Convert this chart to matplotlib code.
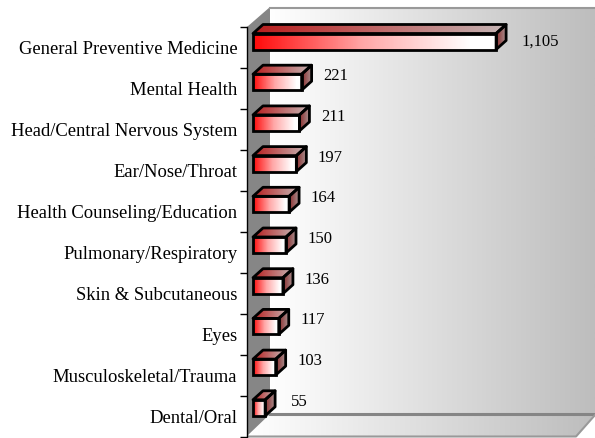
import numpy as np
import matplotlib
matplotlib.use("Agg")
import matplotlib.pyplot as plt
from matplotlib.colors import LinearSegmentedColormap
from matplotlib.patches import Polygon

categories = ["General Preventive Medicine", "Mental Health", "Head/Central Nervous System",
              "Ear/Nose/Throat", "Health Counseling/Education", "Pulmonary/Respiratory",
              "Skin & Subcutaneous", "Eyes", "Musculoskeletal/Trauma", "Dental/Oral"]
values = [1105, 221, 211, 197, 164, 150, 136, 117, 103, 55]
value_labels = ["1,105", "221", "211", "197", "164", "150", "136", "117", "103", "55"]

W, H = 595, 438
plt.rcParams['font.family'] = ['Liberation Serif', 'DejaVu Serif']
fig = plt.figure(figsize=(W / 100, H / 100), dpi=100, facecolor='white')

# ---- 3D box background in pixel coordinates
bg = fig.add_axes([0, 0, 1, 1])
bg.set_xlim(0, W); bg.set_ylim(H, 0); bg.axis('off')
wall_cmap = LinearSegmentedColormap.from_list('wall', ['#ffffff', '#bdbdbd'])
grad = np.linspace(0, 1, 256).reshape(1, -1)
bg.imshow(grad, cmap=wall_cmap, extent=(270, 595, 414, 7), aspect='auto', zorder=1)
floor_im = bg.imshow(grad, cmap=wall_cmap, extent=(247, 595, 436, 414), aspect='auto', zorder=1)
floor_poly = Polygon([(248, 436), (270, 414), (595, 414), (576, 436)], closed=True,
                     fc='none', ec='none', transform=bg.transData)
bg.add_patch(floor_poly)
floor_im.set_clip_path(floor_poly)
bg.add_patch(Polygon([(247, 27), (270, 7), (270, 414), (247, 436)], closed=True,
                     fc='#868686', ec='none', zorder=2))
bg.plot([270, 595], [7.5, 7.5], color='#999999', lw=1.5, zorder=3)
bg.plot([270, 595], [414, 414], color='#858585', lw=2.2, zorder=3)
bg.plot([248, 576, 595], [436.5, 436.5, 415], color='#999999', lw=1.5, zorder=3)
bg.set_xlim(0, W); bg.set_ylim(H, 0)

# ---- data axes on the front plane
px_per_unit = 0.22
row_px = 41.0
ax = fig.add_axes([247 / W, (H - 437) / H, (W - 247) / W, 410 / H])
ax.patch.set_alpha(0)
xlim = (-6 / px_per_unit, 342 / px_per_unit)
n = len(values)
ylim = (n - 0.5, -0.5)

front_cmap = LinearSegmentedColormap.from_list('front', [(0, '#ff0808'), (0.45, '#ffa6a6'), (0.9, '#ffffff'), (1, '#ffffff')])
top_cmap = LinearSegmentedColormap.from_list('top', ['#b81c1c', '#c4b4b4'])
side_cmap = LinearSegmentedColormap.from_list('side', ['#8c2c2c', '#a89090'])

dx = 10 / px_per_unit
dy = 9 / row_px
bar_h = 16 / row_px
ypos = np.arange(n) * (40.7 / row_px) - 6 / row_px

def gradient(x0, x1, y0, y1, cmap, clip_pts=None):
    xe = np.linspace(x0, x1, grad.shape[1] + 1)
    mesh = ax.pcolormesh(xe, [y0, y1], grad, cmap=cmap, vmin=0, vmax=1, shading='flat', zorder=3, clip_on=False)
    if clip_pts is not None:
        poly = Polygon(clip_pts, closed=True, fc='none', ec='black', lw=2, joinstyle='round',
                       zorder=4, clip_on=False)
        ax.add_patch(poly)
        mesh.set_clip_on(True)
        mesh.set_clip_box(fig.bbox)
        mesh.set_clip_path(poly.get_path(), poly.get_transform())

for y, v in zip(ypos, values):
    t, b = y - bar_h / 2, y + bar_h / 2
    gradient(0, v, t, b, front_cmap)
    gradient(0, v + dx, t - dy, t, top_cmap, [(0, t), (dx, t - dy), (v + dx, t - dy), (v, t)])
    gradient(v, v + dx, t - dy, b, side_cmap, [(v, t), (v + dx, t - dy), (v + dx, b - dy), (v, b)])
ax.barh(ypos, values, height=bar_h, facecolor='none', edgecolor='black', linewidth=2, zorder=5, clip_on=False)

for i, (y, v, s) in enumerate(zip(ypos, values, value_labels)):
    ax.annotate(s, (v, y), xytext=((44 if i == 0 else 34) * 0.72, (0 if i == 0 else 6) * 0.72),
                textcoords='offset points', ha='center', va='center', fontsize=12, color='black', zorder=6)

ax.set_xlim(*xlim); ax.set_ylim(*ylim)
ax.set_yticks(np.arange(n), labels=categories)
ax.set_yticks(np.arange(n + 1) - 0.5, minor=True)
ax.tick_params(axis='y', which='major', length=0, pad=7, labelsize=13.4)
ax.tick_params(axis='y', which='minor', length=5, width=1, color='black')
ax.xaxis.set_visible(False)
for side in ('top', 'right', 'bottom'):
    ax.spines[side].set_visible(False)
ax.spines['left'].set_linewidth(1)

fig.savefig('out.png', dpi=100, facecolor='white')
